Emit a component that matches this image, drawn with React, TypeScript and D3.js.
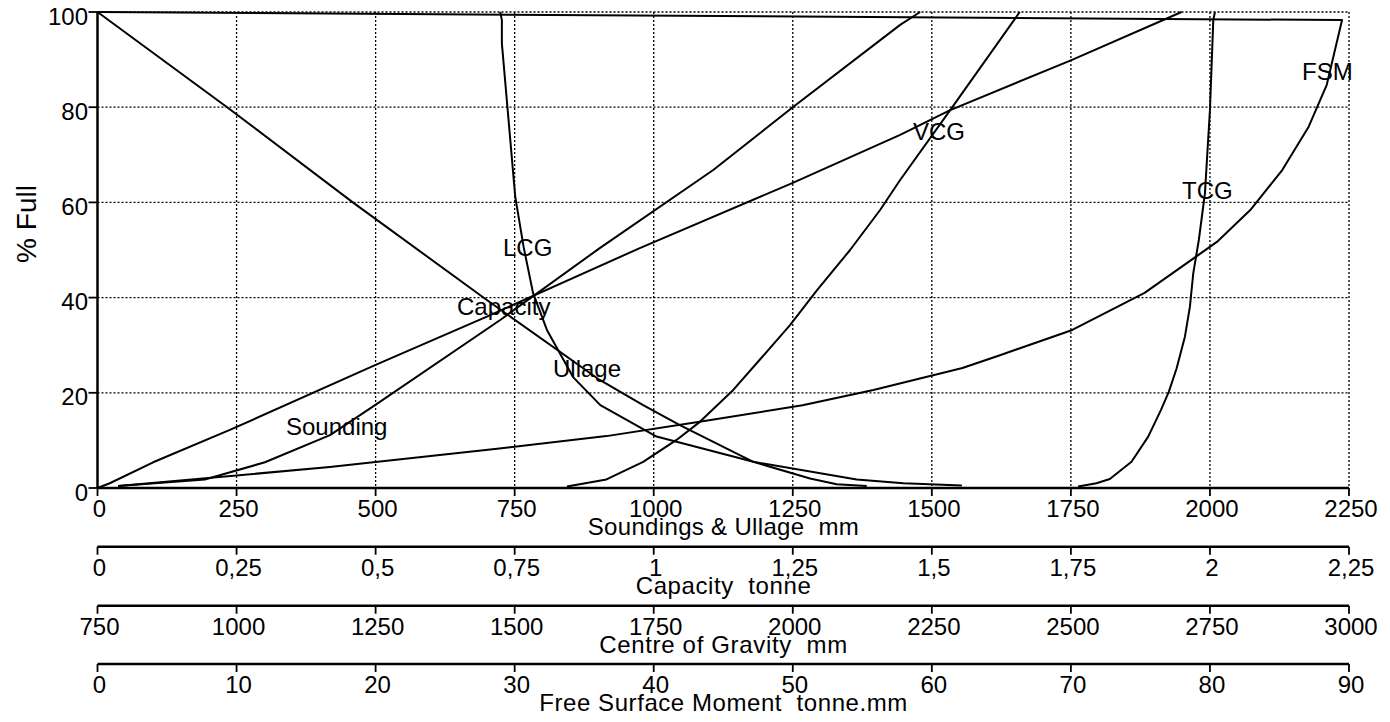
import React from "react";
import * as d3 from "d3";

// ---- data ----
const PCT_TICKS = [0, 20, 40, 60, 80, 100];
const MAIN_TICKS = [0, 250, 500, 750, 1000, 1250, 1500, 1750, 2000, 2250];
const CAP_TICKS = [0, 0.25, 0.5, 0.75, 1, 1.25, 1.5, 1.75, 2, 2.25];
const CAP_LABELS = ["0", "0,25", "0,5", "0,75", "1", "1,25", "1,5", "1,75", "2", "2,25"];
const CG_TICKS = [750, 1000, 1250, 1500, 1750, 2000, 2250, 2500, 2750, 3000];
const FSM_TICKS = [0, 10, 20, 30, 40, 50, 60, 70, 80, 90];

const PCT_SOUNDING = [0.4, 1.8, 5.4, 11.1, 17.4, 35.3, 50.4, 66.8, 80, 97.3, 100];
const SOUNDING_MM = [37, 193, 301, 418, 499, 724, 903, 1107, 1250, 1443, 1479];

const PCT_ULLAGE = [0.4, 0.8, 2.0, 5.5, 13.2, 17.4, 22.7, 39.5, 60, 80, 100];
const ULLAGE_MM = [1383, 1329, 1281, 1179, 1047, 981, 903, 700, 459, 233, 0];

const PCT_CAPACITY = [0, 1.0, 5.4, 12.2, 25.8, 36, 50.4, 64.1, 74.2, 79.4, 89.9, 100];
const CAPACITY_T = [0, 0.022, 0.1, 0.238, 0.499, 0.7, 0.975, 1.25, 1.443, 1.533, 1.751, 1.949];

const PCT_LCG = [0.5, 1.0, 1.8, 5.5, 10.8, 17.4, 23.3, 33.2, 41, 50.7, 61.2, 93.4, 98.3, 100];
const LCG_MM = [2304, 2199, 2115, 1929, 1755, 1654, 1605, 1558, 1533, 1516, 1501, 1477, 1477, 1474];

const PCT_VCG = [0.3, 1.8, 5.5, 10.1, 13.9, 20.6, 34.2, 41.6, 50, 58.4, 64.7, 79.4, 100];
const VCG_MM = [1594, 1665, 1731, 1791, 1833, 1893, 1995, 2044, 2103, 2157, 2193, 2283, 2408];

const PCT_TCG = [0.3, 1.0, 1.9, 5.5, 10.8, 16.4, 20.2, 25.1, 31.8, 38.1, 45.1, 52.1, 61.9, 79.4, 98.3, 100];
const TCG_MM = [2513, 2546, 2570, 2609, 2639, 2662, 2676, 2690, 2705, 2714, 2720, 2730, 2741, 2750, 2756, 2759];

const PCT_FSM = [0.4, 4.4, 8.3, 10.9, 13.9, 17.4, 20.6, 25.2, 27.9, 33.2, 41, 48.6, 51.7, 58.4, 66.8, 75.9, 84.7, 98.3, 100];
const FSM_TMM = [1.5, 16.7, 28.9, 36.6, 43.3, 50.7, 55.8, 62.2, 64.9, 70.1, 75.3, 79.0, 80.5, 82.9, 85.2, 87.1, 88.4, 89.5, 0];

const FONT = "'Liberation Sans', Arial, Helvetica, sans-serif";

export default function App() {
  const W = 1390, H = 722;
  const left = 97.5, right = 1349, top = 12, bottom = 488;

  const y = d3.scaleLinear().domain([0, 100]).range([bottom, top]);
  const xMain = d3.scaleLinear().domain([0, 2250]).range([left, right]);
  const xCap = d3.scaleLinear().domain([0, 2.25]).range([left, right]);
  const xCg = d3.scaleLinear().domain([750, 3000]).range([left, right]);
  const xFsm = d3.scaleLinear().domain([0, 90]).range([left, right]);

  const mk = (xs: number[], ps: number[], sx: d3.ScaleLinear<number, number>) =>
    d3.line<number>().x((v) => sx(v)).y((_, i) => y(ps[i]))(xs) || "";

  const curves = [
    mk(SOUNDING_MM, PCT_SOUNDING, xMain),
    mk(ULLAGE_MM, PCT_ULLAGE, xMain),
    mk(CAPACITY_T, PCT_CAPACITY, xCap),
    mk(LCG_MM, PCT_LCG, xCg),
    mk(VCG_MM, PCT_VCG, xCg),
    mk(TCG_MM, PCT_TCG, xCg),
    mk(FSM_TMM, PCT_FSM, xFsm),
  ];

  const curveLabels = [
    { t: "LCG", x: 503, y: 255.5 },
    { t: "Capacity", x: 457, y: 315 },
    { t: "Ullage", x: 553, y: 377 },
    { t: "Sounding", x: 286, y: 435 },
    { t: "VCG", x: 913, y: 140 },
    { t: "TCG", x: 1182, y: 199 },
    { t: "FSM", x: 1302, y: 80 },
  ];

  const axes = [
    { yy: bottom, ticks: MAIN_TICKS.map((v) => ({ x: xMain(v), l: String(v) })), title: "Soundings & Ullage  mm", tl: 271 },
    { yy: 546.7, ticks: CAP_TICKS.map((v, i) => ({ x: xCap(v), l: CAP_LABELS[i] })), title: "Capacity  tonne", tl: 175 },
    { yy: 605.7, ticks: CG_TICKS.map((v) => ({ x: xCg(v), l: String(v) })), title: "Centre of Gravity  mm", tl: 248 },
    { yy: 664, ticks: FSM_TICKS.map((v) => ({ x: xFsm(v), l: String(v) })), title: "Free Surface Moment  tonne.mm", tl: 368 },
  ];

  const cx = (left + right) / 2;

  return (
    <svg
      width={W}
      height={H}
      style={{ position: "absolute", left: 0, top: 0, background: "#fff" }}
      fontFamily={FONT}
    >
      <rect x={0} y={0} width={W} height={H} fill="#fff" />
      {/* grid */}
      <g stroke="#000" strokeWidth={1.3} strokeDasharray="2 2" fill="none">
        {MAIN_TICKS.filter((v) => v > 0).map((v) => (
          <line key={"gx" + v} x1={xMain(v)} x2={xMain(v)} y1={top} y2={bottom} />
        ))}
        {PCT_TICKS.filter((v) => v > 0).map((v) => (
          <line key={"gy" + v} x1={left} x2={right} y1={y(v)} y2={y(v)} />
        ))}
      </g>
      {/* curves */}
      <g stroke="#000" strokeWidth={2} fill="none" strokeLinejoin="round">
        {curves.map((d, i) => (
          <path key={i} d={d} />
        ))}
      </g>
      {/* y axis */}
      <line x1={left} x2={left} y1={top} y2={bottom} stroke="#000" strokeWidth={2.5} />
      {PCT_TICKS.map((v) => (
        <g key={"yt" + v}>
          <line x1={left - 9} x2={left} y1={y(v)} y2={y(v)} stroke="#000" strokeWidth={1.8} />
          <text x={88} y={y(v) + 12.5} textAnchor="end" fontSize={24}>
            {v}
          </text>
        </g>
      ))}
      <text
        transform={`translate(36,${224}) rotate(-90)`}
        textAnchor="middle"
        fontSize={28}
      >
        % Full
      </text>
      {/* bottom axes */}
      {axes.map((a, k) => (
        <g key={"ax" + k}>
          <line x1={left} x2={right} y1={a.yy} y2={a.yy} stroke="#000" strokeWidth={2.5} />
          {a.ticks.map((t, i) => (
            <g key={i}>
              <line x1={t.x} x2={t.x} y1={a.yy} y2={a.yy + 8} stroke="#000" strokeWidth={1.8} />
              <text x={t.x + 2} y={a.yy + 29} textAnchor="middle" fontSize={24}>
                {t.l}
              </text>
            </g>
          ))}
          <text
            x={cx}
            y={a.yy + 47}
            textAnchor="middle"
            fontSize={24}
            textLength={a.tl}
            lengthAdjust="spacing"
            style={{ whiteSpace: "pre" }}
          >
            {a.title}
          </text>
        </g>
      ))}
      {/* curve labels */}
      {curveLabels.map((c) => (
        <text key={c.t} x={c.x} y={c.y} fontSize={24}>
          {c.t}
        </text>
      ))}
    </svg>
  );
}
